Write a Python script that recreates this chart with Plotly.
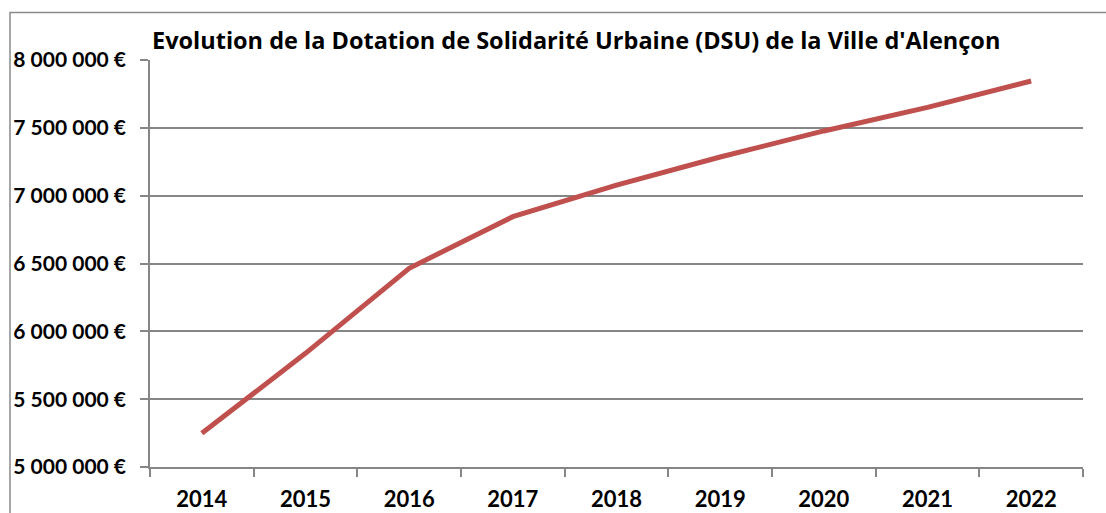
import plotly.graph_objects as go

years = ["2014", "2015", "2016", "2017", "2018", "2019", "2020", "2021", "2022"]
dsu = [5248000, 5838000, 6465000, 6845000, 7078000, 7285000, 7477000, 7651000, 7845000]
y_ticks = [5000000, 5500000, 6000000, 6500000, 7000000, 7500000, 8000000]
y_labels = ["5 000 000 €", "5 500 000 €", "6 000 000 €", "6 500 000 €",
            "7 000 000 €", "7 500 000 €", "8 000 000 €"]
title = "Evolution de la Dotation de Solidarité Urbaine (DSU) de la Ville d'Alençon"

W, H = 1106, 513
L, R, T, B = 150, 23, 60, 46
FONT = "Lato"

fig = go.Figure()
fig.add_trace(go.Scatter(
    x=years, y=dsu, mode="lines",
    line=dict(color="#C0504D", width=5),
    showlegend=False, hoverinfo="x+y",
))

fig.update_layout(
    width=W, height=H,
    margin=dict(l=L, r=R, t=T, b=B, pad=0, autoexpand=False),
    paper_bgcolor="white", plot_bgcolor="white",
    font=dict(family=FONT, color="black"),
    xaxis=dict(
        type="category", tickson="boundaries", automargin=False,
        showgrid=False, showline=True, linecolor="#868686", linewidth=1.5,
        ticks="outside", ticklen=8, tickwidth=1.5, tickcolor="#868686",
        tickfont=dict(family=FONT, size=22, color="black", weight="bold"),
        ticklabelstandoff=12,
        range=[-0.5, 8.5], fixedrange=True,
    ),
    yaxis=dict(
        range=[5000000, 8000000], tickvals=y_ticks, ticktext=y_labels,
        automargin=False,
        showgrid=True, gridcolor="#868686", gridwidth=1.5,
        showline=True, linecolor="#868686", linewidth=1.5,
        ticks="outside", ticklen=8, tickwidth=1.5, tickcolor="#868686",
        tickfont=dict(family=FONT, size=21, color="black", weight="bold"),
        ticklabelstandoff=10,
        zeroline=False, fixedrange=True,
    ),
    annotations=[dict(
        text=title, xref="paper", yref="paper",
        x=0, y=1 + 20 / (H - T - B), xanchor="left", yanchor="middle",
        showarrow=False,
        font=dict(family="Open Sans", size=23.5, color="black", weight="bold"),
    )],
    shapes=[dict(
        type="rect", xref="paper", yref="paper",
        x0=-(L - 10) / (W - L - R), x1=1 + (R + 20) / (W - L - R),
        y0=-(B + 20) / (H - T - B), y1=1 + (T - 12.5) / (H - T - B),
        line=dict(color="#8A8A8A", width=1.5), layer="below",
    )],
)

fig.write_html("out.html", config={"displayModeBar": False},
               post_script="document.body.style.margin='0';")
